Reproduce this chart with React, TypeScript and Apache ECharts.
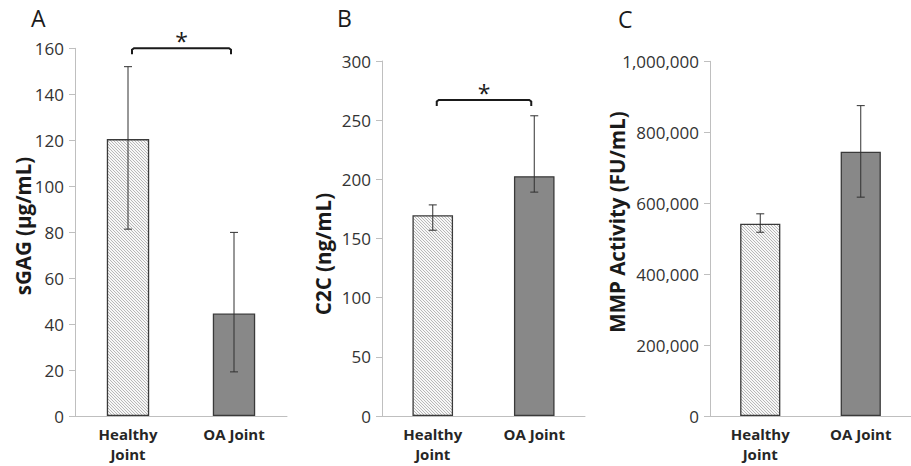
import React, { useEffect, useRef } from 'react';
import * as echarts from 'echarts';

// ---------- data ----------
const categories = ['Healthy\nJoint', 'OA Joint'];

const sgagMean = [120.5, 44.6];
const sgagLow = [81.3, 19.2];
const sgagHigh = [152, 79.9];

const c2cMean = [169.7, 202.7];
const c2cLow = [157, 189.2];
const c2cHigh = [178.4, 253.7];

const mmpMean = [542000, 745000];
const mmpLow = [518000, 617000];
const mmpHigh = [570000, 875000];

const panelLetters = ['A', 'B', 'C'];
const axisNames = ['sGAG (µg/mL)', 'C2C (ng/mL)', 'MMP Activity (FU/mL)'];
const yMaxes = [160, 300, 1000000];
const yIntervals = [20, 50, 200000];
// significance bracket level per panel (null = none)
const bracketLevels: (number | null)[] = [160, 267, null];

const FONT = '"Open Sans", "Liberation Sans", sans-serif';

function makeHatch(): HTMLCanvasElement {
  const c = document.createElement('canvas');
  c.width = 3;
  c.height = 3;
  const ctx = c.getContext('2d')!;
  ctx.fillStyle = '#f7f7f7';
  ctx.fillRect(0, 0, 3, 3);
  ctx.fillStyle = '#b8b8b8';
  for (let i = 0; i < 3; i++) ctx.fillRect(i, i, 1, 1);
  return c;
}

export default function App() {
  const ref = useRef<HTMLDivElement>(null);

  useEffect(() => {
    if (!ref.current) return;
    const chart = echarts.init(ref.current, null, { renderer: 'svg' });
    const hatch = makeHatch();
    const hatchFill: any = { image: hatch, repeat: 'repeat', imageWidth: 3, imageHeight: 3 };

    const means = [sgagMean, c2cMean, mmpMean];
    const lows = [sgagLow, c2cLow, mmpLow];
    const highs = [sgagHigh, c2cHigh, mmpHigh];

    const grids = [
      { left: 75, top: 48.3, width: 212, height: 367.7 },
      { left: 382, top: 61, width: 203, height: 355 },
      { left: 710, top: 61.3, width: 212, height: 354.7 },
    ];

    const xAxes = grids.map((_, i) => ({
      type: 'category',
      gridIndex: i,
      data: categories,
      axisLine: { show: true, lineStyle: { color: '#bfbfbf', width: 1 } },
      axisTick: { show: false },
      axisLabel: {
        fontFamily: FONT,
        fontSize: 15,
        fontWeight: 'bold',
        color: '#262626',
        lineHeight: 20,
        margin: 8,
        interval: 0,
      },
    }));

    const yAxes = grids.map((_, i) => ({
      type: 'value',
      gridIndex: i,
      min: 0,
      max: yMaxes[i],
      interval: yIntervals[i],
      axisLine: { show: true, lineStyle: { color: '#bfbfbf', width: 1 } },
      axisTick: { show: true, length: 6, lineStyle: { color: '#bfbfbf' } },
      splitLine: { show: false },
      axisLabel: {
        fontFamily: FONT,
        fontSize: 17,
        color: '#333333',
        margin: 11,
        formatter: (v: number) => v.toLocaleString('en-US'),
      },
    }));

    const series: any[] = [];
    for (let i = 0; i < 3; i++) {
      series.push({
        type: 'bar',
        xAxisIndex: i,
        yAxisIndex: i,
        barWidth: '40%',
        z: 2,
        data: means[i].map((v, k) => ({
          value: v,
          itemStyle: {
            color: k === 0 ? hatchFill : '#888888',
            borderColor: '#3a3a3a',
            borderWidth: 1.3,
          },
        })),
      });
      series.push({
        type: 'custom',
        xAxisIndex: i,
        yAxisIndex: i,
        clip: false,
        z: 5,
        encode: { x: 0, y: [1, 2] },
        data: lows[i].map((lo, k) => [k, lo, highs[i][k]]),
        renderItem: (params: any, api: any) => {
          const x = api.value(0);
          const pLo = api.coord([x, api.value(1)]);
          const pHi = api.coord([x, api.value(2)]);
          const hw = 4;
          const st = { stroke: '#303030', lineWidth: 1 };
          return {
            type: 'group',
            children: [
              { type: 'line', shape: { x1: pLo[0], y1: pLo[1], x2: pHi[0], y2: pHi[1] }, style: st },
              { type: 'line', shape: { x1: pLo[0] - hw, y1: pLo[1], x2: pLo[0] + hw, y2: pLo[1] }, style: st },
              { type: 'line', shape: { x1: pHi[0] - hw, y1: pHi[1], x2: pHi[0] + hw, y2: pHi[1] }, style: st },
            ],
          };
        },
      });
      const lvl = bracketLevels[i];
      if (lvl != null) {
        series.push({
          type: 'custom',
          xAxisIndex: i,
          yAxisIndex: i,
          clip: false,
          silent: true,
          z: 5,
          data: [[0, 1, lvl]],
          encode: { x: [0, 1], y: 2 },
          renderItem: (params: any, api: any) => {
            const p0 = api.coord([api.value(0), api.value(2)]);
            const p1 = api.coord([api.value(1), api.value(2)]);
            const x0 = p0[0] + 4;
            const x1 = p1[0] - 3;
            const y = p0[1];
            const drop = 6;
            return {
              type: 'group',
              children: [
                {
                  type: 'polyline',
                  shape: { points: [[x0, y + drop], [x0, y + 1.5], [x0 + 2, y], [x1 - 2, y], [x1, y + 1.5], [x1, y + drop]] },
                  style: { stroke: '#1a1a1a', lineWidth: 2, fill: null },
                },
                {
                  type: 'text',
                  style: {
                    text: '*',
                    x: (x0 + x1) / 2,
                    y: y - 7,
                    align: 'center',
                    verticalAlign: 'middle',
                    fontFamily: FONT,
                    fontSize: 23,
                    fill: '#1a1a1a',
                  },
                },
              ],
            };
          },
        });
      }
    }

    const letterPos = [
      [31, 6],
      [337, 6],
      [618, 7],
    ];
    const namePos = [
      [23, 226],
      [323, 254],
      [617, 222],
    ];
    const graphic: any[] = [];
    for (let i = 0; i < 3; i++) {
      graphic.push({
        type: 'text',
        x: letterPos[i][0],
        y: letterPos[i][1],
        style: { text: panelLetters[i], fontFamily: FONT, fontSize: 23, fill: '#1a1a1a' },
      });
      graphic.push({
        type: 'text',
        x: namePos[i][0],
        y: namePos[i][1],
        rotation: Math.PI / 2,
        style: {
          text: axisNames[i],
          fontFamily: FONT,
          fontSize: 20.5,
          fontWeight: 'bold',
          fill: '#1a1a1a',
          align: 'center',
          verticalAlign: 'middle',
        },
      });
    }

    chart.setOption({
      animation: false,
      backgroundColor: '#ffffff',
      grid: grids,
      xAxis: xAxes,
      yAxis: yAxes,
      series,
      graphic,
    });

    return () => chart.dispose();
  }, []);

  return (
    <div
      ref={ref}
      style={{ position: 'fixed', left: 0, top: 0, width: 911, height: 466, background: '#fff' }}
    />
  );
}
